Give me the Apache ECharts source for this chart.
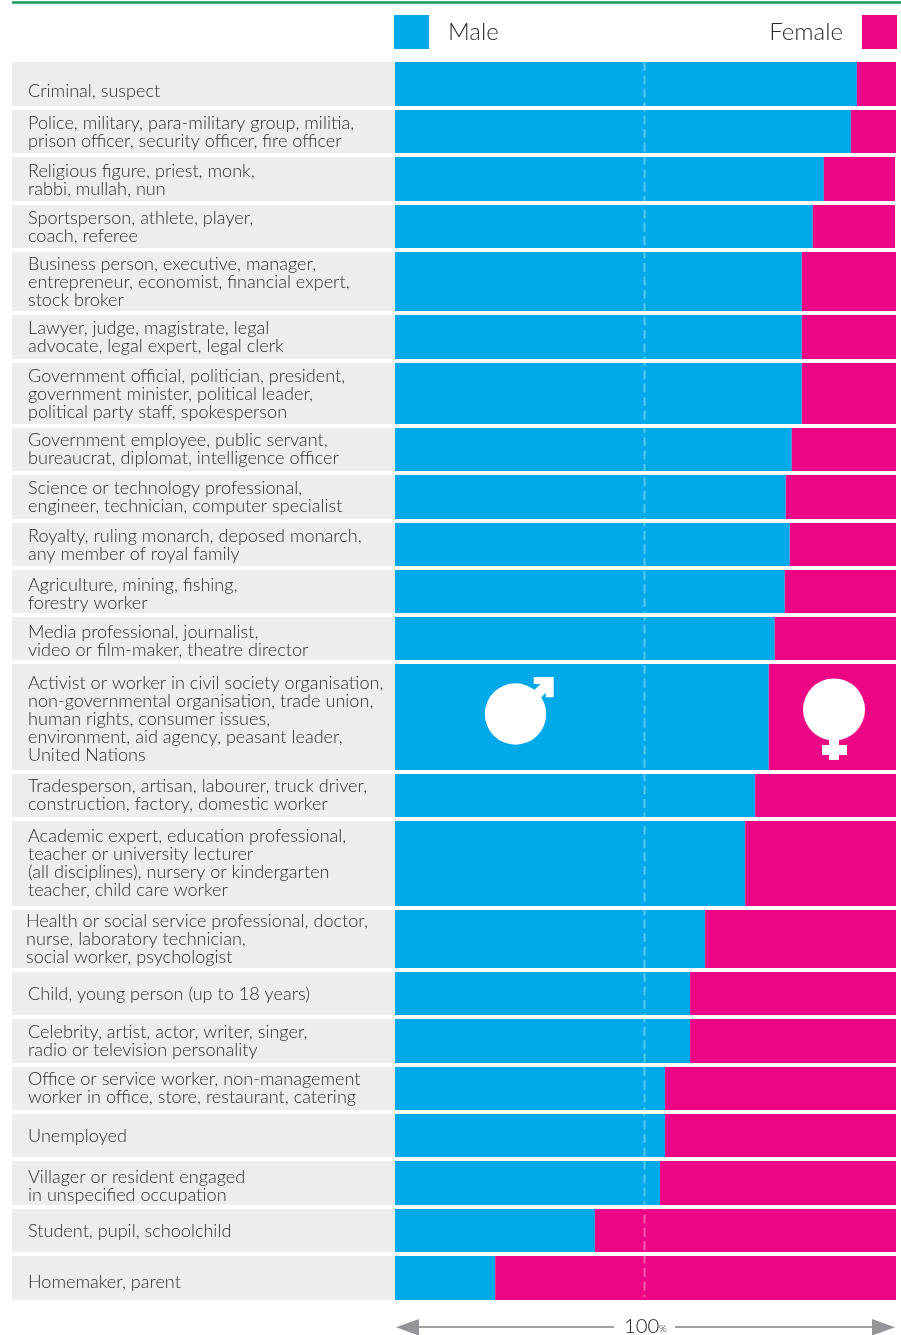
<!DOCTYPE html>
<html><head><meta charset="utf-8">
<style>html,body{margin:0;padding:0;background:#fff}#c{width:901px;height:1335px}</style>
<script src="https://cdn.jsdelivr.net/npm/echarts@6/dist/echarts.min.js"></script>
</head><body><div id="c"></div>
<script>
const categories = [
 "Criminal, suspect",
 "Police, military, para-military group, militia,\nprison officer, security officer, fire officer",
 "Religious figure, priest, monk,\nrabbi, mullah, nun",
 "Sportsperson, athlete, player,\ncoach, referee",
 "Business person, executive, manager,\nentrepreneur, economist, financial expert,\nstock broker",
 "Lawyer, judge, magistrate, legal\nadvocate, legal expert, legal clerk",
 "Government official, politician, president,\ngovernment minister, political leader,\npolitical party staff, spokesperson",
 "Government employee, public servant,\nbureaucrat, diplomat, intelligence officer",
 "Science or technology professional,\nengineer, technician, computer specialist",
 "Royalty, ruling monarch, deposed monarch,\nany member of royal family",
 "Agriculture, mining, fishing,\nforestry worker",
 "Media professional, journalist,\nvideo or film-maker, theatre director",
 "Activist or worker in civil society organisation,\nnon-governmental organisation, trade union,\nhuman rights, consumer issues,\nenvironment, aid agency, peasant leader,\nUnited Nations",
 "Tradesperson, artisan, labourer, truck driver,\nconstruction, factory, domestic worker",
 "Academic expert, education professional,\nteacher or university lecturer\n(all disciplines), nursery or kindergarten\nteacher, child care worker",
 "Health or social service professional, doctor,\nnurse, laboratory technician,\nsocial worker, psychologist",
 "Child, young person (up to 18 years)",
 "Celebrity, artist, actor, writer, singer,\nradio or television personality",
 "Office or service worker, non-management\nworker in office, store, restaurant, catering",
 "Unemployed",
 "Villager or resident engaged\nin unspecified occupation",
 "Student, pupil, schoolchild",
 "Homemaker, parent"
];
const maleShare = [92.2,91.0,85.6,83.4,81.2,81.2,81.2,79.2,78.0,78.8,77.8,75.8,74.6,71.9,69.9,61.9,58.9,58.9,53.9,53.9,52.9,39.9,20.0];
const femaleShare = [7.8,9.0,14.2,16.4,18.8,18.8,18.8,20.8,22.0,21.2,22.2,24.2,25.4,28.1,30.1,38.1,41.1,41.1,46.1,46.1,47.1,60.1,80.0];
const parityLine = 49.8;

// Band scale of the y axis: each row's share of the axis, including the gap below it
const rowBands = [48,47,47.5,47.5,63,48,65,47,47.5,47.5,47,47,110,47,89,62,47,47.5,47.5,47,47.5,47.5,47.5];
const bandGap = 3.6;
// Label placement tweaks, kept apart from the data
const labelNudge = [7,1,1,1,1,0,1,0,0,1,3,3,2.5,0,0,0,1,0.5,0,1,3,1,4.5];
const labelIndent = {15:-2};

const BLUE='#00a9e9', PINK='#ee0586', GREY='#ededed', INK='#2b2b2b';
const FONT='300 18.1px Lato';

const tops = []; rowBands.reduce((a,s,i)=>{tops[i]=a;return a+s;},0);
const total = rowBands.reduce((a,b)=>a+b,0);

const rowRows = categories.map((c,i)=>[i]);

function rowRect(api, i, x0, x1){
  const a = api.coord([x0, tops[i]]);
  const b = api.coord([x1, tops[i]+rowBands[i]-bandGap]);
  const y0=Math.round(a[1]), y1=Math.round(b[1]);
  return {x:a[0], y:y0, width:b[0]-a[0], height:y1-y0};
}

const chart = echarts.init(document.getElementById('c'), null, {renderer:'canvas'});
chart.setOption({
  animation:false,
  backgroundColor:'#fff',
  grid:{left:395, top:62, width:501, height:total},
  xAxis:{type:'value', min:0, max:100, show:false},
  yAxis:{type:'value', min:0, max:total, inverse:true, show:false},
  legend:[
    {left:394, top:15, padding:0, icon:'rect', data:['Male'], selectedMode:false, orient:'horizontal', itemWidth:35, itemHeight:34,
     textStyle:{fontFamily:'Lato', fontWeight:300, fontSize:24, color:INK, padding:[3,0,0,14]}},
    {right:4, top:15, padding:0, icon:'rect', data:['Female'], selectedMode:false, align:'right', itemWidth:35, itemHeight:34,
     textStyle:{fontFamily:'Lato', fontWeight:300, fontSize:24, color:INK, padding:[3,14,0,0]}}
  ],
  series:[
    {type:'custom', name:'labels', clip:false, silent:true, data:rowRows, encode:{x:[],y:0},
     renderItem:(p,api)=>{
       const i=p.dataIndex, r=rowRect(api,i,0,0);
       return {type:'group',children:[
         {type:'rect',shape:{x:12,y:r.y,width:r.x-12,height:r.height},style:{fill:GREY}},
         {type:'text',style:{text:categories[i],x:28+(labelIndent[i]||0),y:r.y+r.height/2+labelNudge[i],
            font:FONT,fill:INK,lineHeight:18,textAlign:'left',textVerticalAlign:'middle'}}
       ]};
     }},
    {type:'custom', name:'Male', itemStyle:{color:BLUE}, data:maleShare.map((v,i)=>[v,i]), silent:true, z:3, clip:false,
     renderItem:(p,api)=>{
       const i=p.dataIndex, r=rowRect(api,i,0,api.value(0));
       return {type:'rect',shape:r,style:{fill:BLUE}};
     }},
    {type:'custom', name:'Female', itemStyle:{color:PINK}, data:femaleShare.map((v,i)=>[v,i]), silent:true, z:3, clip:false,
     renderItem:(p,api)=>{
       const i=p.dataIndex, m=maleShare[i], r=rowRect(api,i,m,m+api.value(0));
       return {type:'rect',shape:r,style:{fill:PINK}};
     }},
    {type:'custom', name:'parity', data:[[parityLine,0]], silent:true, z:4, clip:false,
     renderItem:(p,api)=>{
       const a=api.coord([api.value(0),0]), b=api.coord([api.value(0),total-bandGap-3]);
       return {type:'line',shape:{x1:a[0],y1:a[1],x2:b[0],y2:b[1]},
         style:{stroke:'rgba(255,255,255,0.35)',lineWidth:2,lineDash:[9,4.4]}};
     }}
  ],
  graphic:[
    {type:'rect',z:10,shape:{x:12,y:1.3,width:889,height:2.4},style:{fill:'#1a9a62'}},
    {type:'circle',z:10,shape:{cx:515.5,cy:714,r:30.7},style:{fill:'#fff'}},
    {type:'polygon',z:10,shape:{points:[[533.7,677],[553.7,677],[553.7,697.3],[545.7,697.3],[545.7,692.7],[540.7,698],[533,691],[540.7,684],[533.7,684]]},style:{fill:'#fff'}},
    {type:'circle',z:10,shape:{cx:834,cy:709.5,r:31},style:{fill:'#fff'}},
    {type:'rect',z:10,shape:{x:829,y:735,width:10,height:25},style:{fill:'#fff'}},
    {type:'rect',z:10,shape:{x:822,y:745,width:25,height:10},style:{fill:'#fff'}},
    {type:'rect',z:10,shape:{x:415,y:1326,width:199,height:2},style:{fill:'#a0a1a3'}},
    {type:'rect',z:10,shape:{x:675,y:1326,width:200,height:2},style:{fill:'#a0a1a3'}},
    {type:'polygon',z:10,shape:{points:[[396,1327.3],[419,1319],[419,1335.6]]},style:{fill:'#939598'}},
    {type:'polygon',z:10,shape:{points:[[895,1327.3],[872,1319],[872,1335.6]]},style:{fill:'#939598'}},
    {type:'text',z:10,style:{x:624,y:1326,text:'100',font:'300 20.3px Lato',fill:'#222',textVerticalAlign:'middle'}},
    {type:'text',z:10,style:{x:659,y:1329,text:'%',font:'300 10px Lato',fill:'#222',textVerticalAlign:'middle'}}
  ]
});
</script></body></html>
